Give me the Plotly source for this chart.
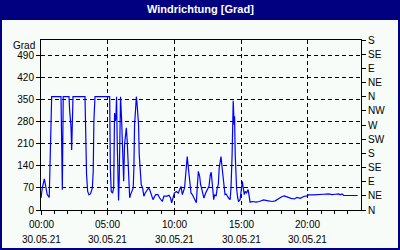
import plotly.graph_objects as go

DAY = "2021-05-30"
NEXT_DAY = "2021-05-31"

times = ["00:00","00:06","00:15","00:21","00:28","00:37","00:40","00:45","00:48","01:30",
         "01:31","01:36","01:40","02:06","02:09","02:15","02:18","02:21","02:24","03:18",
         "03:19","03:25","03:30","03:36","03:43","03:51","03:55","03:58","04:03","05:09",
         "05:12","05:16","05:22","05:27","05:31","05:34","05:37","05:40","05:43","05:49",
         "05:52","05:58","06:03","06:07","06:12","06:16","06:19","06:24","06:28","06:31",
         "06:34","06:39","06:43","06:49","06:55","06:58","07:01","07:06","07:09","07:12",
         "07:15","07:19","07:22","07:27","07:31","07:37","07:43","07:49","07:57","08:04",
         "08:09","08:15","08:19","08:24","08:36","08:46","08:54","09:06","09:13","09:28",
         "09:36","09:43","09:48","09:54","10:00","10:09","10:18","10:24","10:30","10:36",
         "10:42","10:46","10:51","10:54","10:58","11:03","11:09","11:15","11:21","11:30",
         "11:39","11:43","11:48","11:54","11:58","12:06","12:13","12:21","12:30","12:36",
         "12:42","12:46","12:51","12:54","12:57","13:01","13:08","13:13","13:18","13:22",
         "13:27","13:30","13:35","13:39","13:44","13:48","13:53","13:58","14:04","14:11",
         "14:15","14:20","14:22","14:25","14:29","14:31","14:34","14:38","14:40","14:45",
         "14:49","14:56","15:01","15:06","15:10","15:15","15:19","15:25","15:32","15:36",
         "15:41","15:52","16:08","16:22","16:42","16:57","17:20","17:34","17:49","18:05",
         "18:15","18:30","18:45","19:00","19:12","19:27","19:42","19:57","20:04","20:27",
         "20:49","21:12","21:34","21:50","22:04","22:19","22:27","22:35","22:42","22:57",
         "23:45"]

values = [38, 70, 99, 70, 49, 40, 124, 283, 360, 360,
          285, 64, 360, 360, 315, 264, 191, 286, 360, 360,
          302, 112, 59, 48, 52, 70, 123, 283, 360, 360,
          134, 59, 54, 70, 308, 282, 293, 360, 217, 30,
          100, 360, 282, 176, 91, 208, 240, 261, 218, 155,
          91, 39, 49, 59, 70, 134, 271, 324, 360, 340,
          313, 271, 176, 102, 81, 70, 44, 54, 65, 70,
          65, 49, 44, 33, 49, 49, 38, 27, 44, 44,
          47, 38, 23, 44, 54, 59, 54, 65, 75, 49,
          59, 70, 112, 144, 170, 134, 81, 54, 49, 38,
          23, 70, 123, 107, 81, 59, 38, 54, 70, 75,
          112, 120, 81, 49, 33, 49, 44, 70, 81, 134,
          155, 170, 134, 102, 59, 49, 51, 44, 38, 33,
          70, 176, 282, 347, 271, 298, 176, 97, 70, 39,
          27, 33, 59, 91, 70, 49, 59, 54, 65, 44,
          25, 27, 25, 27, 32, 30, 27, 29, 37, 43,
          45, 40, 37, 35, 40, 37, 43, 45, 48, 48,
          48, 50, 51, 49, 50, 51, 48, 51, 46, 46,
          46]

tick_times = ["00:00", "05:00", "10:00", "15:00", "20:00"]
tick_date = "30.05.21"
hour_marks = ["%02d:00" % h for h in range(24)]

left_ticks = [0, 70, 140, 210, 280, 350, 420, 490]
right_ticks = [0, 45, 90, 135, 180, 225, 270, 315, 360, 405, 450, 495, 540]
right_labels = ["N", "NE", "E", "SE", "S", "SW", "W", "NW", "N", "NE", "E", "SE", "S"]

title_text = "Windrichtung [Grad]"
unit_text = "Grad"

W, H = 400, 250
L, R, T, B = 41, 39, 40, 40
PW, PH = W - L - R, H - T - B
NAVY = "#000080"
BG = "#F8FCF8"
FONT = "Liberation Sans"


def px(x):
    return (x - L) / PW


def py(y):
    return (H - B - y) / PH


fig = go.Figure()
fig.add_trace(go.Scatter(
    x=[DAY + " " + t for t in times], y=values, mode="lines",
    line=dict(color="#0000FF", width=1.2), hoverinfo="skip", showlegend=False))
fig.add_trace(go.Scatter(
    x=[DAY + " 00:00"], y=[0], yaxis="y2", mode="markers",
    marker=dict(opacity=0), hoverinfo="skip", showlegend=False))

axfont = dict(family=FONT, size=10, color="black")

annotations = [
    dict(text="<b>" + title_text + "</b>", xref="paper", yref="paper",
         x=px(200), y=py(9), xanchor="center", yanchor="middle", showarrow=False,
         font=dict(family=FONT, size=11, color="white")),
    dict(text=unit_text, xref="paper", yref="paper",
         x=px(37), y=py(45), xanchor="right", yanchor="middle", showarrow=False,
         font=axfont),
]
for t in tick_times:
    annotations.append(dict(text=t, xref="x", yref="paper",
                            x=DAY + " " + t, y=py(224), xanchor="center", yanchor="middle",
                            showarrow=False, font=axfont))
    annotations.append(dict(text=tick_date, xref="x", yref="paper",
                            x=DAY + " " + t, y=py(239), xanchor="center", yanchor="middle",
                            showarrow=False, font=axfont))

fig.update_layout(
    width=W, height=H,
    margin=dict(l=L, r=R, t=T, b=B, pad=0),
    paper_bgcolor=BG, plot_bgcolor=BG,
    showlegend=False,
    font=axfont,
    xaxis=dict(
        type="date", range=[DAY + " 00:00", NEXT_DAY + " 00:00"],
        tickmode="array",
        tickvals=[DAY + " " + t for t in tick_times],
        showticklabels=False,
        ticks="outside", ticklen=4, tickcolor="black", tickwidth=1,
        showline=True, linecolor="black", linewidth=1, mirror=True,
        showgrid=True, gridcolor="black", gridwidth=1, griddash="4px,3px",
        zeroline=False, fixedrange=True,
        minor=dict(tickmode="array", tickvals=[DAY + " " + t for t in hour_marks],
                   ticks="outside", ticklen=3, tickcolor="black", showgrid=False),
    ),
    yaxis=dict(
        range=[0, 540], tickmode="array", tickvals=left_ticks,
        ticks="outside", ticklen=4, tickcolor="black",
        showline=True, linecolor="black", linewidth=1, mirror=True,
        showgrid=True, gridcolor="black", gridwidth=1, griddash="4px,3px",
        zeroline=False, tickfont=axfont, fixedrange=True,
    ),
    yaxis2=dict(
        overlaying="y", side="right", range=[0, 540],
        tickmode="array", tickvals=right_ticks, ticktext=right_labels,
        ticks="outside", ticklen=4, tickcolor="black",
        showline=True, linecolor="black", linewidth=1,
        showgrid=False, zeroline=False, tickfont=axfont, fixedrange=True,
    ),
    shapes=[
        dict(type="rect", xref="paper", yref="paper",
             x0=px(0), x1=px(W), y0=py(20), y1=py(0),
             fillcolor=NAVY, line=dict(width=0), layer="below"),
        dict(type="rect", xref="paper", yref="paper",
             x0=px(1), x1=px(W - 1), y0=py(H - 1), y1=py(1),
             fillcolor="rgba(0,0,0,0)", line=dict(color=NAVY, width=2), layer="above"),
    ],
    annotations=annotations,
)

fig.write_html("out.html")
